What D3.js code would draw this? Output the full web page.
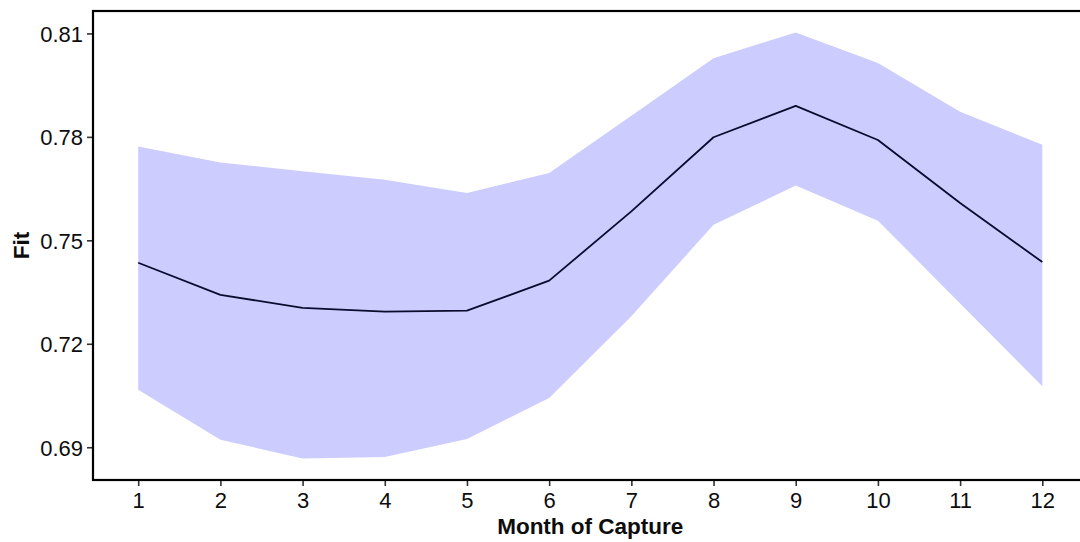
<!DOCTYPE html>
<html>
<head>
<meta charset="utf-8">
<script src="https://cdn.jsdelivr.net/npm/d3@7"></script>
<style>
  html, body { margin: 0; padding: 0; background: #ffffff; }
  svg { display: block; }
  text { font-family: "Liberation Sans", Arial, sans-serif; }
</style>
</head>
<body>
<svg id="chart" width="1080" height="542"></svg>
<script>
// Month of capture and model fit with its confidence band
const months = [1, 2, 3, 4, 5, 6, 7, 8, 9, 10, 11, 12];
const fit    = [0.7435, 0.7342, 0.7304, 0.7293, 0.7296, 0.7383, 0.7584, 0.7799, 0.7890, 0.7791, 0.7608, 0.7437];
const upper  = [0.7772, 0.7726, 0.7700, 0.7676, 0.7637, 0.7695, 0.7861, 0.8028, 0.8103, 0.8014, 0.7873, 0.7777];
const lower  = [0.7067, 0.6922, 0.6867, 0.6872, 0.6924, 0.7043, 0.7280, 0.7545, 0.7659, 0.7557, 0.7317, 0.7077];
const yTicks = [0.69, 0.72, 0.75, 0.78, 0.81];

const rows = months.map((m, i) => ({ m, fit: fit[i], lo: lower[i], hi: upper[i] }));

const svg = d3.select("#chart");
const panel = { left: 93, right: 1087.5, top: 11, bottom: 480 };

const x = d3.scaleLinear().domain([0.45, 12.55]).range([panel.left, panel.right]);
const y = d3.scaleLinear().domain([0.6805, 0.8165]).range([panel.bottom, panel.top]);

// Confidence ribbon
svg.append("path")
  .datum(rows)
  .attr("fill", "#ccccff")
  .attr("d", d3.area().x(d => x(d.m)).y0(d => y(d.lo)).y1(d => y(d.hi)));

// Fitted line
svg.append("path")
  .datum(rows)
  .attr("fill", "none")
  .attr("stroke", "#0b0b2e")
  .attr("stroke-width", 1.8)
  .attr("stroke-linejoin", "round")
  .attr("d", d3.line().x(d => x(d.m)).y(d => y(d.fit)));

// Axes
const xAxis = svg.append("g")
  .attr("transform", `translate(0,${panel.bottom})`)
  .call(d3.axisBottom(x).tickValues(months).tickFormat(d3.format("d")).tickSizeInner(6).tickSizeOuter(0));
const yAxis = svg.append("g")
  .attr("transform", `translate(${panel.left},0)`)
  .call(d3.axisLeft(y).tickValues(yTicks).tickFormat(d3.format(".2f")).tickSizeInner(6).tickSizeOuter(0));

[xAxis, yAxis].forEach(g => {
  g.select(".domain").remove();
  g.selectAll(".tick line").attr("stroke", "#333333").attr("stroke-width", 1.6);
  g.selectAll(".tick text").attr("fill", "#0d0d0d").attr("font-size", 22)
    .attr("font-family", "'Liberation Sans', Arial, sans-serif");
});
xAxis.selectAll(".tick text").attr("dy", null).attr("y", 28);
yAxis.selectAll(".tick text").attr("x", -10).attr("dy", "0.36em");

// Panel border
svg.append("rect")
  .attr("x", panel.left).attr("y", panel.top)
  .attr("width", panel.right - panel.left).attr("height", panel.bottom - panel.top)
  .attr("fill", "none").attr("stroke", "#000000").attr("stroke-width", 2.2);

// Axis titles
svg.append("text")
  .attr("x", (panel.left + panel.right) / 2).attr("y", 534)
  .attr("text-anchor", "middle")
  .attr("font-size", 22.5).attr("font-weight", "bold").attr("fill", "#0d0d0d")
  .text("Month of Capture");

svg.append("text")
  .attr("transform", `translate(29,${(panel.top + panel.bottom) / 2}) rotate(-90)`)
  .attr("text-anchor", "middle")
  .attr("font-size", 22.5).attr("font-weight", "bold").attr("fill", "#0d0d0d")
  .text("Fit");
</script>
</body>
</html>
